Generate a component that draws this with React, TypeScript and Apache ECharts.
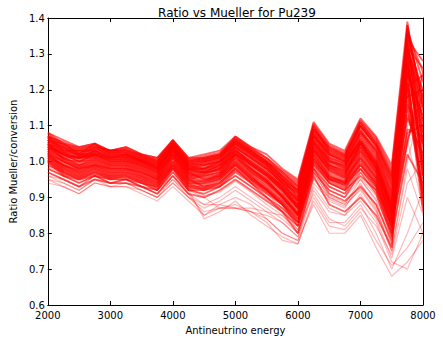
import React, { useEffect, useRef } from "react";
import * as echarts from "echarts";

const energies = [2000, 2250, 2500, 2750, 3000, 3250, 3500, 3750, 4000, 4250, 4500, 4750, 5000, 5250, 5500, 5750, 6000, 6250, 6500, 6750, 7000, 7250, 7500, 7750, 8000];

// dense core runs
const L1 = [1.08,1.05,1.04,1.05,1.03,1.04,1.02,1.01,1.06,1.01,1.02,1.03,1.07,1.04,1.02,0.98,0.95,1.11,1.05,1.03,1.12,1.07,0.99,1.39,1.10];
const L2 = [1.07,1.04,1.03,1.04,1.03,1.03,1.02,1.00,1.06,1.00,1.01,1.02,1.07,1.04,1.01,0.97,0.94,1.10,1.04,1.02,1.11,1.06,0.97,1.36,1.25];
const L3 = [1.06,1.05,1.02,1.05,1.02,1.03,1.01,1.00,1.05,1.00,1.01,1.02,1.06,1.03,1.00,0.97,0.93,1.09,1.04,1.02,1.10,1.05,0.96,1.33,1.05];
const L4 = [1.07,1.03,1.03,1.03,1.02,1.02,1.01,0.99,1.05,0.99,1.00,1.01,1.06,1.03,1.00,0.96,0.93,1.10,1.03,1.01,1.11,1.05,0.95,1.30,1.18];
const L5 = [1.05,1.02,1.01,1.03,1.01,1.02,1.00,0.99,1.04,0.99,1.00,1.01,1.05,1.02,0.99,0.95,0.92,1.09,1.03,1.01,1.10,1.04,0.94,1.28,0.98];
const L6 = [1.06,1.03,1.02,1.02,1.01,1.01,1.00,0.98,1.05,0.98,0.99,1.00,1.05,1.02,0.99,0.95,0.91,1.08,1.02,1.00,1.09,1.03,0.93,1.25,1.12];
const L7 = [1.04,1.02,1.00,1.02,1.00,1.01,0.99,0.98,1.04,0.98,0.99,1.00,1.04,1.01,0.98,0.94,0.91,1.07,1.02,1.00,1.08,1.03,0.92,1.22,0.95];
const L8 = [1.05,1.01,1.01,1.01,1.00,1.00,0.99,0.97,1.03,0.97,0.98,0.99,1.04,1.01,0.98,0.94,0.90,1.07,1.01,0.99,1.08,1.02,0.91,1.30,1.08];
const L9 = [1.03,1.00,0.99,1.01,0.99,1.00,0.98,0.97,1.03,0.97,0.97,0.99,1.03,1.00,0.97,0.93,0.89,1.06,1.00,0.98,1.07,1.01,0.90,1.18,1.20];
const L10 = [1.04,1.01,0.99,1.00,0.99,0.99,0.98,0.96,1.02,0.96,0.97,0.98,1.03,0.99,0.96,0.93,0.89,1.05,1.00,0.98,1.06,1.00,0.89,1.26,1.00];
const L11 = [1.02,0.99,0.98,1.00,0.98,0.99,0.97,0.96,1.02,0.96,0.96,0.97,1.02,0.99,0.96,0.92,0.88,1.05,0.99,0.97,1.05,0.99,0.88,1.15,0.92];
const L12 = [1.03,1.00,0.98,0.99,0.98,0.98,0.97,0.95,1.01,0.95,0.96,0.97,1.01,0.98,0.95,0.92,0.87,1.04,0.98,0.96,1.05,0.98,0.87,1.32,1.15];
const L13 = [1.01,0.99,0.97,0.99,0.97,0.98,0.96,0.95,1.01,0.95,0.95,0.96,1.01,0.97,0.94,0.91,0.87,1.03,0.98,0.96,1.04,0.98,0.86,1.12,1.02];
const L14 = [1.02,0.98,0.97,0.98,0.97,0.97,0.96,0.94,1.00,0.94,0.94,0.96,1.00,0.97,0.94,0.90,0.86,1.03,0.97,0.95,1.03,0.97,0.85,1.20,0.90];
const L15 = [1.00,0.98,0.96,0.98,0.96,0.97,0.95,0.94,0.99,0.94,0.94,0.95,0.99,0.96,0.93,0.90,0.85,1.02,0.96,0.94,1.02,0.96,0.84,1.08,1.10];
const L16 = [1.01,0.97,0.96,0.97,0.96,0.96,0.95,0.93,0.99,0.93,0.93,0.95,0.99,0.95,0.92,0.89,0.85,1.01,0.95,0.94,1.01,0.95,0.83,1.35,0.97];
const L17 = [0.99,0.97,0.95,0.97,0.95,0.96,0.94,0.93,0.98,0.93,0.92,0.94,0.98,0.95,0.92,0.88,0.84,1.00,0.95,0.93,1.00,0.94,0.82,1.05,1.25];
const L18 = [1.00,0.96,0.95,0.96,0.95,0.95,0.94,0.92,0.98,0.92,0.92,0.93,0.97,0.94,0.91,0.88,0.83,0.99,0.94,0.92,0.99,0.93,0.81,1.24,0.88];
const L19 = [0.98,0.96,0.94,0.96,0.94,0.95,0.93,0.92,0.97,0.92,0.91,0.93,0.96,0.93,0.90,0.87,0.83,0.98,0.93,0.91,0.98,0.92,0.80,1.16,1.05];
const L20 = [0.97,0.95,0.93,0.95,0.94,0.94,0.93,0.91,0.96,0.91,0.90,0.92,0.95,0.92,0.89,0.86,0.82,0.97,0.92,0.90,0.97,0.91,0.79,1.02,0.94];
const L28 = [1.02,1.00,0.98,0.99,0.98,0.98,0.97,0.95,1.00,0.95,0.93,0.94,0.98,0.94,0.90,0.86,0.80,0.96,0.88,0.86,0.90,0.85,0.76,1.28,1.02];
const L29 = [1.04,1.02,1.00,1.02,1.00,1.00,0.99,0.97,1.02,0.97,0.95,0.96,1.00,0.96,0.92,0.88,0.82,0.98,0.91,0.89,0.93,0.88,0.78,1.38,1.15];
const L30 = [1.06,1.04,1.02,1.03,1.02,1.02,1.00,0.99,1.04,0.99,0.98,0.99,1.02,0.98,0.95,0.90,0.85,1.00,0.94,0.92,0.96,0.92,0.80,1.20,0.86];
const L32 = [1.05,1.03,1.01,1.02,1.01,1.01,1.00,0.98,1.03,0.98,0.97,0.98,1.02,0.99,0.96,0.92,0.87,1.02,0.96,0.94,0.99,0.94,0.83,1.34,1.28];
const L33 = [1.08,1.06,1.04,1.05,1.03,1.04,1.02,1.01,1.06,1.01,1.01,1.02,1.06,1.03,1.00,0.96,0.92,1.08,1.02,1.00,1.06,1.00,0.88,1.37,1.22];
const L34 = [1.07,1.05,1.03,1.04,1.03,1.03,1.01,1.00,1.05,1.00,1.00,1.01,1.05,1.02,0.99,0.95,0.90,1.06,1.00,0.99,1.05,0.99,0.86,1.31,1.14];
const L35 = [1.04,1.02,1.01,1.03,1.01,1.02,1.00,0.98,1.04,0.98,0.98,1.00,1.03,1.00,0.97,0.93,0.88,1.04,0.99,0.97,1.03,0.97,0.84,1.29,0.96];
const M1 = [1.075,1.045,1.035,1.045,1.025,1.035,1.015,1.005,1.055,1.005,1.015,1.025,1.065,1.035,1.01,0.975,0.945,1.105,1.045,1.025,1.115,1.065,0.98,1.37,1.16];
const M2 = [1.065,1.035,1.025,1.035,1.025,1.025,1.015,0.995,1.055,0.995,1.005,1.015,1.065,1.035,1.005,0.965,0.935,1.095,1.035,1.015,1.105,1.055,0.965,1.34,1.08];
const M3 = [1.055,1.04,1.015,1.04,1.015,1.025,1.005,0.995,1.045,0.995,1.005,1.015,1.055,1.025,0.995,0.96,0.925,1.085,1.035,1.015,1.095,1.045,0.955,1.31,1.20];
const M4 = [1.06,1.025,1.02,1.025,1.015,1.015,1.005,0.985,1.045,0.985,0.995,1.005,1.055,1.025,0.995,0.955,0.92,1.09,1.025,1.005,1.10,1.045,0.945,1.27,1.04];
const M5 = [1.045,1.025,1.005,1.025,1.005,1.015,0.995,0.985,1.035,0.985,0.995,1.005,1.045,1.015,0.985,0.945,0.915,1.075,1.025,1.005,1.085,1.035,0.935,1.24,1.13];
const M6 = [1.055,1.015,1.015,1.015,1.005,1.005,0.995,0.975,1.04,0.975,0.985,0.995,1.045,1.015,0.985,0.945,0.905,1.075,1.015,0.995,1.085,1.025,0.915,1.29,0.99];
const M7 = [1.035,1.01,0.995,1.015,0.995,1.005,0.985,0.975,1.035,0.975,0.98,0.995,1.035,1.005,0.975,0.935,0.895,1.065,1.005,0.985,1.075,1.015,0.905,1.21,1.24];
const M8 = [1.045,1.005,1.0,1.005,0.995,0.995,0.985,0.965,1.025,0.965,0.975,0.985,1.035,0.995,0.965,0.935,0.895,1.055,1.005,0.985,1.065,1.005,0.895,1.27,1.06];
const M9 = [1.025,0.995,0.985,1.005,0.985,0.995,0.975,0.965,1.025,0.965,0.965,0.98,1.025,0.995,0.965,0.925,0.885,1.055,0.995,0.975,1.055,0.995,0.885,1.17,0.93];
const M10 = [1.035,1.005,0.985,0.995,0.985,0.985,0.975,0.955,1.015,0.955,0.965,0.975,1.02,0.985,0.955,0.925,0.875,1.045,0.985,0.965,1.055,0.985,0.875,1.30,1.11];
const M11 = [1.015,0.99,0.975,0.995,0.975,0.985,0.965,0.955,1.015,0.955,0.955,0.965,1.015,0.975,0.945,0.915,0.875,1.035,0.985,0.965,1.045,0.985,0.865,1.13,1.01];
const M12 = [1.025,0.985,0.975,0.985,0.975,0.975,0.965,0.945,1.005,0.945,0.945,0.965,1.005,0.975,0.945,0.905,0.865,1.035,0.975,0.955,1.035,0.975,0.855,1.22,0.91];
const M13 = [1.005,0.985,0.965,0.985,0.965,0.975,0.955,0.945,0.995,0.945,0.945,0.955,0.995,0.965,0.935,0.905,0.855,1.025,0.965,0.945,1.025,0.965,0.845,1.09,1.07];
const M14 = [1.015,0.975,0.965,0.975,0.965,0.965,0.955,0.935,0.995,0.935,0.935,0.955,0.995,0.955,0.925,0.895,0.855,1.015,0.955,0.945,1.015,0.955,0.835,1.33,0.96];
const M15 = [0.995,0.975,0.955,0.975,0.955,0.965,0.945,0.935,0.985,0.935,0.925,0.945,0.985,0.955,0.925,0.885,0.845,1.005,0.955,0.935,1.005,0.945,0.825,1.06,1.19];
const M16 = [1.005,0.965,0.955,0.965,0.955,0.955,0.945,0.925,0.985,0.925,0.925,0.935,0.975,0.945,0.915,0.885,0.835,0.995,0.945,0.925,0.995,0.935,0.815,1.25,0.89];
const M17 = [1.07,1.055,1.035,1.045,1.03,1.035,1.015,1.005,1.055,1.005,1.005,1.015,1.055,1.025,0.995,0.955,0.915,1.07,1.01,0.995,1.055,0.995,0.87,1.35,1.19];
const M18 = [1.05,1.035,1.015,1.025,1.015,1.015,1.005,0.985,1.035,0.985,0.975,0.985,1.025,0.995,0.965,0.925,0.875,1.03,0.975,0.955,1.01,0.955,0.85,1.32,1.26];
const M20 = [1.045,1.025,1.01,1.02,1.005,1.005,0.995,0.975,1.03,0.975,0.97,0.975,1.015,0.98,0.945,0.905,0.855,1.01,0.95,0.935,0.98,0.93,0.82,1.36,1.17];
const M23 = [1.065,1.045,1.025,1.035,1.025,1.025,1.005,0.995,1.045,0.995,0.99,1.0,1.04,1.01,0.98,0.94,0.89,1.05,0.99,0.975,1.04,0.98,0.865,1.38,1.05];

// sparse low-side runs
const L21 = [0.96,0.94,0.92,0.95,0.93,0.94,0.92,0.90,0.95,0.90,0.88,0.90,0.93,0.90,0.87,0.84,0.80,0.95,0.90,0.88,0.95,0.89,0.77,1.10,1.12];
const L22 = [0.95,0.93,0.91,0.94,0.93,0.93,0.92,0.90,0.94,0.90,0.87,0.89,0.92,0.89,0.86,0.83,0.79,0.94,0.89,0.87,0.94,0.87,0.75,0.98,0.85];
const L23 = [0.94,0.93,0.91,0.94,0.93,0.93,0.91,0.89,0.93,0.89,0.85,0.88,0.90,0.88,0.84,0.80,0.78,0.92,0.86,0.85,0.91,0.84,0.73,0.90,0.80];
const L24 = [0.95,0.94,0.92,0.95,0.94,0.94,0.92,0.90,0.94,0.90,0.86,0.87,0.88,0.86,0.83,0.78,0.77,0.90,0.83,0.83,0.88,0.80,0.70,0.80,0.92];
const L25 = [0.96,0.95,0.93,0.96,0.94,0.95,0.93,0.91,0.95,0.91,0.85,0.87,0.87,0.86,0.84,0.80,0.78,0.88,0.80,0.80,0.85,0.76,0.68,0.72,0.78];
const L26 = [0.99,0.97,0.95,0.97,0.96,0.96,0.94,0.92,0.96,0.92,0.84,0.86,0.89,0.85,0.82,0.79,0.77,0.89,0.82,0.81,0.86,0.78,0.71,0.76,0.83];
const L27 = [0.97,0.95,0.93,0.96,0.95,0.95,0.93,0.91,0.96,0.91,0.88,0.88,0.87,0.87,0.86,0.85,0.81,0.91,0.84,0.82,0.87,0.82,0.74,0.94,1.00];
const L31 = [1.03,1.01,0.99,1.01,0.99,0.99,0.98,0.96,1.02,0.96,0.96,0.97,0.99,0.95,0.91,0.87,0.82,0.97,0.90,0.88,0.92,0.86,0.75,1.00,1.18];
const L36 = [0.98,0.96,0.94,0.96,0.95,0.95,0.94,0.92,0.97,0.92,0.90,0.87,0.87,0.86,0.85,0.83,0.79,0.93,0.87,0.85,0.89,0.83,0.72,0.70,0.80];
const M19 = [1.035,1.015,1.0,1.015,0.995,0.995,0.985,0.965,1.015,0.965,0.955,0.965,1.005,0.965,0.93,0.89,0.84,0.99,0.93,0.91,0.955,0.905,0.79,1.25,1.09];
const M21 = [1.01,0.99,0.97,0.99,0.97,0.97,0.96,0.94,0.99,0.94,0.92,0.93,0.96,0.93,0.895,0.865,0.81,0.965,0.905,0.885,0.935,0.88,0.77,1.14,0.98];
const M22 = [0.985,0.965,0.945,0.965,0.955,0.955,0.945,0.925,0.975,0.925,0.905,0.915,0.945,0.915,0.88,0.85,0.80,0.955,0.895,0.875,0.925,0.865,0.76,1.06,0.87];
const M24 = [1.025,1.005,0.99,1.005,0.99,0.99,0.975,0.955,1.01,0.955,0.945,0.955,0.99,0.955,0.915,0.88,0.83,0.985,0.92,0.90,0.95,0.895,0.80,1.21,1.13];

const coreRuns = [L1, L2, L3, L4, L5, L6, L7, L8, L9, L10, L11, L12, L13, L14, L15, L16, L17, L18, L19, L20, L28, L29, L30, L32, L33, L34, L35, M1, M2, M3, M4, M5, M6, M7, M8, M9, M10, M11, M12, M13, M14, M15, M16, M17, M18, M20, M23];
const tailRuns = [L21, L22, L23, L24, L25, L26, L27, L31, L36, M19, M21, M22, M24];

const FONT = "DejaVu Sans";

export default function App() {
  const ref = useRef<HTMLDivElement>(null);
  useEffect(() => {
    if (!ref.current) return;
    const chart = echarts.init(ref.current, null, { renderer: "svg" });
    const tickStyle = { inside: true, length: 4, lineStyle: { color: "#000", width: 1 } };
    const lineStyle = { lineStyle: { color: "#000", width: 1 } };
    const mk = (vals: number[], k: number, op: number, w: number) => ({
      type: "line",
      name: "run" + k,
      xAxisIndex: 0,
      yAxisIndex: 0,
      data: vals.map((v, i) => [energies[i], v]),
      showSymbol: false,
      symbol: "none",
      lineStyle: { color: "#ff0000", width: w, opacity: op },
      silent: true,
    });
    chart.setOption({
      animation: false,
      backgroundColor: "#fff",
      title: {
        text: "Ratio vs Mueller for Pu239",
        left: 232,
        textAlign: "center",
        top: 2,
        textStyle: { fontFamily: FONT, fontSize: 12, fontWeight: "normal", color: "#000" },
      },
      grid: { left: 42, right: 20, top: 18, bottom: 29, containLabel: false },
      xAxis: [
        {
          type: "value",
          min: 2000,
          max: 8000,
          interval: 1000,
          position: "bottom",
          name: "Antineutrino energy",
          nameLocation: "middle",
          nameGap: 20,
          nameTextStyle: { fontFamily: FONT, fontSize: 10, color: "#000" },
          axisLine: { show: true, onZero: false, ...lineStyle },
          axisTick: tickStyle,
          axisLabel: { fontFamily: FONT, fontSize: 10, color: "#000", margin: 5, formatter: (v: number) => String(v) },
          splitLine: { show: false },
        },
        {
          type: "value",
          min: 2000,
          max: 8000,
          interval: 1000,
          position: "top",
          axisLine: { show: true, onZero: false, ...lineStyle },
          axisTick: tickStyle,
          axisLabel: { show: false },
          splitLine: { show: false },
        },
      ],
      yAxis: [
        {
          type: "value",
          min: 0.6,
          max: 1.4,
          interval: 0.1,
          position: "left",
          name: "Ratio Mueller/conversion",
          nameLocation: "middle",
          nameGap: 27,
          nameTextStyle: { fontFamily: FONT, fontSize: 10, color: "#000" },
          axisLine: { show: true, onZero: false, ...lineStyle },
          axisTick: tickStyle,
          axisLabel: { fontFamily: FONT, fontSize: 10, color: "#000", margin: 3, formatter: (v: number) => v.toFixed(1) },
          splitLine: { show: false },
        },
        {
          type: "value",
          min: 0.6,
          max: 1.4,
          interval: 0.1,
          position: "right",
          axisLine: { show: true, onZero: false, ...lineStyle },
          axisTick: tickStyle,
          axisLabel: { show: false },
          splitLine: { show: false },
        },
      ],
      series: [
        ...tailRuns.map((v, k) => mk(v, k, 0.28, 1.2)),
        ...coreRuns.map((v, k) => mk(v, 100 + k, 0.6, 1.8)),
      ],
    });
    return () => chart.dispose();
  }, []);
  return <div ref={ref} style={{ width: 443, height: 340, position: "absolute", left: 0, top: 0 }} />;
}
